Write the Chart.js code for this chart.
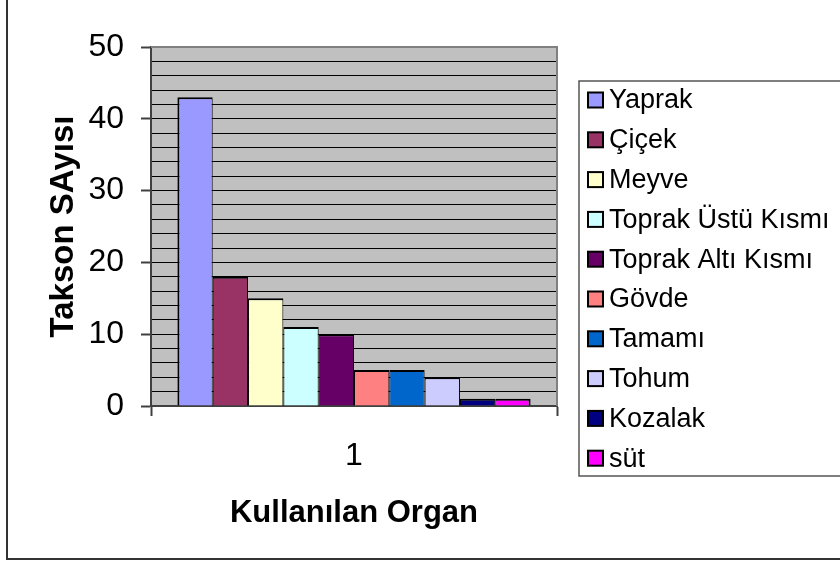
<!DOCTYPE html>
<html>
<head>
<meta charset="utf-8">
<script src="https://cdn.jsdelivr.net/npm/chart.js@4.4.1/dist/chart.umd.min.js"></script>
<style>
  html, body { margin: 0; padding: 0; background: #ffffff; }
  #wrap { width: 840px; height: 562px; position: relative; }
  canvas { display: block; }
</style>
</head>
<body>
<div id="wrap"><canvas id="c" width="840" height="562"></canvas></div>
<script>
// ---- data ----
const categories = ['1'];
const seriesNames = ['Yaprak', 'Çiçek', 'Meyve', 'Toprak Üstü Kısmı', 'Toprak Altı Kısmı', 'Gövde', 'Tamamı', 'Tohum', 'Kozalak', 'süt'];
const seriesValues = [43, 18, 15, 11, 10, 5, 5, 4, 1, 1];
const seriesColors = ['#9999FF', '#993366', '#FFFFCC', '#CCFFFF', '#660066', '#FF8080', '#0066CC', '#CCCCFF', '#000080', '#FF00FF'];
const yTitle = 'Takson SAyısı';
const xTitle = 'Kullanılan Organ';
const yMin = 0, yMax = 50, yLabelStep = 10, yGridStep = 2;

const FONT = "'Liberation Sans', Arial, sans-serif";

const datasets = seriesNames.map((name, i) => ({
  label: name,
  data: [seriesValues[i]],
  backgroundColor: seriesColors[i],
  borderColor: '#000000',
  borderWidth: { top: 2, bottom: 0, left: i === 0 ? 2 : 1, right: i === seriesNames.length - 1 ? 2 : 1 },
  borderSkipped: false,
  categoryPercentage: 0.87,
  barPercentage: 1.0
}));

const plotDecor = {
  id: 'plotDecor',
  beforeDraw(chart) {
    const { ctx, chartArea: a } = chart;
    ctx.save();
    ctx.fillStyle = '#ffffff';
    ctx.fillRect(0, 0, chart.width, chart.height);
    ctx.fillStyle = '#C0C0C0';
    ctx.fillRect(a.left, a.top, a.right - a.left, a.bottom - a.top);
    ctx.restore();
  },
  beforeDatasetsDraw(chart) {
    const { ctx, chartArea: a } = chart;
    ctx.save();
    ctx.strokeStyle = '#808080';
    ctx.lineWidth = 2;
    ctx.beginPath();
    ctx.moveTo(a.left, a.top);
    ctx.lineTo(a.right, a.top);
    ctx.lineTo(a.right, a.bottom);
    ctx.stroke();
    ctx.restore();
  },
  afterDraw(chart) {
    const { ctx } = chart;
    ctx.save();
    // outer chart frame (left and bottom visible)
    ctx.strokeStyle = '#333333';
    ctx.lineWidth = 2;
    ctx.strokeRect(7, -10, 900, 569);
    // legend box
    const lx = 579, ly = 81, lh = 395;
    ctx.fillStyle = '#ffffff';
    ctx.fillRect(lx, ly, 300, lh);
    ctx.strokeStyle = '#555555';
    ctx.lineWidth = 1.5;
    ctx.strokeRect(lx, ly, 300, lh);
    const ds = chart.data.datasets;
    ctx.font = '27px ' + FONT;
    ctx.textBaseline = 'middle';
    ctx.textAlign = 'left';
    ds.forEach((d, i) => {
      const cy = 100 + i * 39.8;
      ctx.fillStyle = d.backgroundColor;
      ctx.fillRect(588, cy - 7.5, 15, 15);
      ctx.strokeStyle = '#000000';
      ctx.lineWidth = 2;
      ctx.strokeRect(588, cy - 7.5, 15, 15);
      ctx.fillStyle = '#000000';
      ctx.fillText(d.label, 609, cy + 1);
    });
    ctx.restore();
  }
};

new Chart(document.getElementById('c'), {
  type: 'bar',
  data: { labels: categories, datasets },
  options: {
    responsive: false,
    animation: false,
    layout: { padding: { top: 47, right: 283, left: 0, bottom: 0 } },
    plugins: { legend: { display: false }, tooltip: { enabled: false } },
    scales: {
      x: {
        offset: true,
        grid: { offset: true, drawOnChartArea: false, drawTicks: true, tickLength: 10, tickColor: '#404040', tickWidth: 2 },
        border: { color: '#404040', width: 2 },
        ticks: { color: '#000', font: { family: FONT, size: 32 }, padding: 21 },
        title: { display: true, text: xTitle, color: '#000', font: { family: FONT, size: 31, weight: 'bold' }, padding: { top: 0, bottom: 30 } },
        afterFit(scale) { scale.height = 156; }
      },
      y: {
        min: yMin, max: yMax,
        grid: {
          color: (c) => (c.tick && c.tick.value === yMax) ? 'rgba(0,0,0,0)' : '#000000',
          lineWidth: 1,
          drawTicks: true, tickLength: 10,
          tickColor: (c) => (c.tick && c.tick.value % yLabelStep === 0) ? '#404040' : 'rgba(0,0,0,0)',
          tickWidth: 2
        },
        border: { color: '#404040', width: 2 },
        ticks: {
          stepSize: yGridStep, autoSkip: false, color: '#000',
          font: { family: FONT, size: 32 }, padding: 17,
          callback: (v) => (v % yLabelStep === 0 ? String(v) : '')
        },
        title: { display: true, text: yTitle, color: '#000', font: { family: FONT, size: 33, weight: 'bold' }, padding: { top: 44, bottom: 0 } },
        afterFit(scale) { scale.width = 151; }
      }
    }
  },
  plugins: [plotDecor]
});
</script>
</body>
</html>
